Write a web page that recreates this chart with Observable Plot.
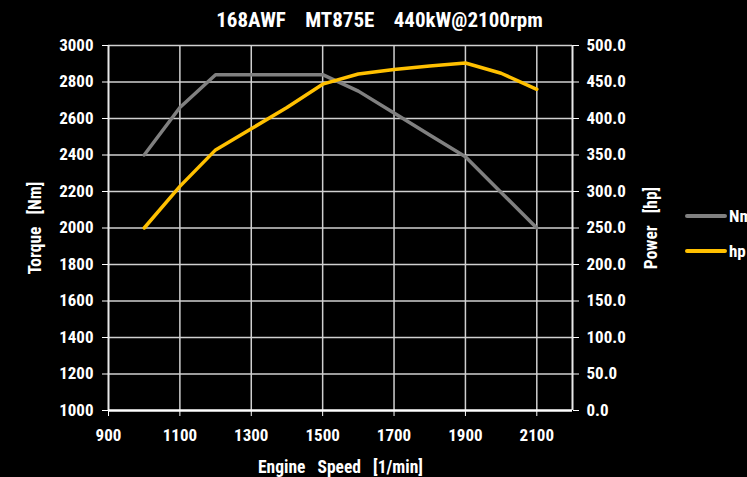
<!DOCTYPE html>
<html>
<head>
<meta charset="utf-8">
<script src="https://cdn.jsdelivr.net/npm/d3@7"></script>
<script src="https://cdn.jsdelivr.net/npm/@observablehq/plot@0.6"></script>
<style>
  html, body { margin: 0; padding: 0; background: #000; overflow: hidden; }
  #wrap { position: relative; width: 747px; height: 477px; background: #000; font-family: "Roboto Condensed", "Roboto", sans-serif; font-weight: bold; color: #fff; }
  svg text { white-space: pre; }
  svg g[aria-label$="axis label"] text { font-size: 17.5px; word-spacing: 2px; }
  #title { position: absolute; top: 8px; left: 0; width: 759px; text-align: center; font-size: 21px; white-space: pre; }
  .leg { position: absolute; left: 685px; font-size: 17px; white-space: nowrap; display: flex; align-items: center; }
  .leg span.sw { display: inline-block; width: 42px; height: 4px; margin-right: 2px; border-radius: 2px; }
</style>
</head>
<body>
<div id="wrap"></div>
<script>
const titleText = "168AWF    MT875E    440kW@2100rpm";
const rpm = [1000, 1100, 1200, 1300, 1400, 1500, 1600, 1700, 1800, 1900, 2000, 2100];
const torqueNm = [2400, 2660, 2840, 2840, 2840, 2840, 2750, 2630, 2510, 2390, 2195, 2000];
const powerHp = [250, 307, 357, 386, 415, 447, 461, 467, 472, 476, 462, 440];
const xTicks = [900, 1100, 1300, 1500, 1700, 1900, 2100];
const yTicks = [1000, 1200, 1400, 1600, 1800, 2000, 2200, 2400, 2600, 2800, 3000];
const seriesNames = ["Nm", "hp"];
const seriesColors = ["#808080", "#FFC000"];

const torqueData = rpm.map((r, i) => ({rpm: r, v: torqueNm[i]}));
const powerData = rpm.map((r, i) => ({rpm: r, hp: powerHp[i]}));
// power axis maps 0..500 hp onto 1000..3000 of the torque scale
const hpToY = hp => 1000 + hp * 4;

const chart = Plot.plot({
  width: 747,
  height: 477,
  marginLeft: 108,
  marginRight: 175,
  marginTop: 45,
  marginBottom: 67,
  style: {background: "#000", color: "#fff", fontFamily: "'Roboto Condensed', Roboto, sans-serif", fontSize: "17px", fontWeight: "bold"},
  x: {domain: [900, 2200]},
  y: {domain: [1000, 3000]},
  marks: [
    Plot.gridX(xTicks.slice(1), {stroke: "#d0d0d0", strokeOpacity: 1, strokeWidth: 1.5}),
    Plot.gridY(yTicks.slice(1), {stroke: "#d0d0d0", strokeOpacity: 1, strokeWidth: 1.5}),
    Plot.ruleX([900, 2200], {stroke: "#e8e8e8", strokeWidth: 2}),
    Plot.ruleY([1000], {stroke: "#fff", strokeWidth: 2.5}),
    Plot.axisY(yTicks, {anchor: "left", tickSize: 6, tickPadding: 9, tickFormat: d => String(d), label: "Torque  [Nm]", labelAnchor: "center", labelArrow: "none", labelOffset: 80, stroke: "#fff"}),
    Plot.axisY(yTicks, {anchor: "right", tickSize: 6, tickPadding: 8, tickFormat: d => ((d - 1000) / 4).toFixed(1), label: "Power  [hp]", labelAnchor: "center", labelArrow: "none", labelOffset: 84, stroke: "#fff"}),
    Plot.axisX(xTicks, {anchor: "bottom", tickSize: 6, tickPadding: 12, tickFormat: d => String(d), label: "Engine  Speed  [1/min]", labelAnchor: "center", labelArrow: "none", labelOffset: 62, stroke: "#fff"}),
    Plot.line(torqueData, {x: "rpm", y: "v", stroke: seriesColors[0], strokeWidth: 3.5, strokeLinejoin: "miter"}),
    Plot.line(powerData, {x: "rpm", y: d => hpToY(d.hp), stroke: seriesColors[1], strokeWidth: 3.5, strokeLinejoin: "miter"})
  ]
});

const wrap = document.getElementById("wrap");
wrap.appendChild(chart);
const t = document.createElement("div");
t.id = "title";
t.textContent = titleText;
wrap.appendChild(t);
seriesNames.forEach((name, i) => {
  const d = document.createElement("div");
  d.className = "leg";
  d.style.top = (i === 0 ? 206 : 241) + "px";
  d.innerHTML = `<span class="sw" style="background:${seriesColors[i]}"></span><span>${name}</span>`;
  wrap.appendChild(d);
});
</script>
</body>
</html>
